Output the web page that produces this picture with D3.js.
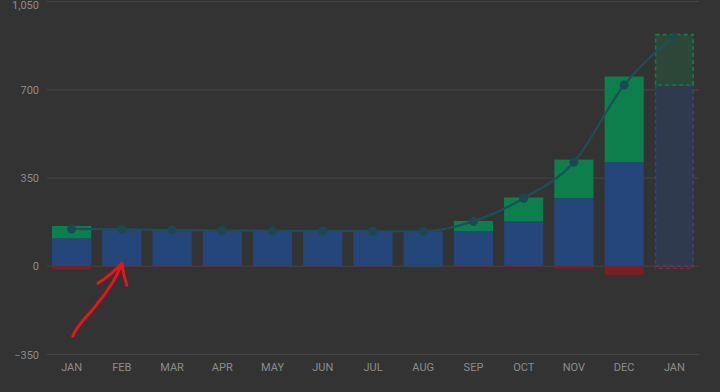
<!DOCTYPE html>
<html><head><meta charset="utf-8">
<script src="https://cdn.jsdelivr.net/npm/d3@7"></script>
<style>
html,body{margin:0;padding:0;background:#333333;}
svg{display:block;font-family:Roboto,"Noto Sans",sans-serif;}
</style></head>
<body><svg id="c" width="720" height="392"></svg>
<script>
const months   = ["JAN","FEB","MAR","APR","MAY","JUN","JUL","AUG","SEP","OCT","NOV","DEC","JAN"];
const opening  = [111, 148, 146, 144, 142, 141, 140, 139, 139, 178, 270, 413, 719];
const income   = [49,   0,   0,   0,   0,   0,   0,   0,  41,  95, 153, 340, 200];
const expenses = [12,   2,   2,   2,   1,   1,   1,   0,   2,   3,   9,  34,   8];
const closing  = [148, 146, 144, 142, 141, 140, 139, 139, 178, 270, 413, 719, 912];
const forecast = [false,false,false,false,false,false,false,false,false,false,false,false,true];
const yTicks   = [-350, 0, 350, 700, 1050];

const svg = d3.select("#c");
const idx = months.map((m,i)=>i);
const x = d3.scaleBand().domain(idx).range([47,699]).paddingInner(0.22).paddingOuter(0.1);
const y = d3.scaleLinear().domain([-350,1050]).range([354.5,1.6]);
const fmt = d3.format(",");

// grid
svg.append("g").selectAll("line").data(yTicks).join("line")
  .attr("x1",47).attr("x2",699)
  .attr("y1",d=>y(d)).attr("y2",d=>y(d))
  .attr("stroke","#464646").attr("stroke-width",1);

// y axis labels
const ya = svg.append("g").attr("transform","translate(39,0)")
  .call(d3.axisLeft(y).tickValues(yTicks).tickFormat(fmt).tickSize(0).tickPadding(0));
ya.select(".domain").remove();
ya.selectAll("text").attr("fill","#8c8c8c").attr("font-size",11)
  .attr("font-family","Roboto,'Noto Sans',sans-serif")
  .attr("dy",(d)=> y(d)<5 ? "0.62em" : "0.32em");

// x axis labels
const xa = svg.append("g").attr("transform","translate(0,360)")
  .call(d3.axisBottom(x).tickFormat(i=>months[i]).tickSize(0).tickPadding(3));
xa.select(".domain").remove();
xa.selectAll("text").attr("fill","#8c8c8c").attr("font-size",11)
  .attr("font-family","Roboto,'Noto Sans',sans-serif");

const C = {blue:"#24467b", green:"#0c7f4c", red:"#7d1f22",
           fBlue:"#2f3a4f", fGreen:"#2c4637", fBlueS:"#2a4a82", fGreenS:"#0f7c4b", fRedS:"#7a2a45"};

const bars = svg.append("g");
idx.forEach(i=>{
  const bx = x(i), bw = x.bandwidth();
  const f = forecast[i];
  const rect = (v0,v1,fill,stroke)=>{
    const r = bars.append("rect").attr("x",bx).attr("width",bw)
      .attr("y",y(Math.max(v0,v1))).attr("height",Math.abs(y(v0)-y(v1)))
      .attr("fill",fill);
    if(stroke){ r.attr("stroke",stroke).attr("stroke-width",1.6).attr("stroke-dasharray","4,3")
      .attr("x",bx+0.8).attr("width",bw-1.6); }
    return r;
  };
  if(!f){
    rect(0,opening[i],C.blue);
    if(income[i]>0) rect(opening[i],opening[i]+income[i],C.green);
    if(expenses[i]>0) rect(0,-expenses[i],C.red);
  } else {
    rect(0,opening[i],C.fBlue,C.fBlueS);
    rect(opening[i],opening[i]+income[i],C.fGreen,C.fGreenS);
    rect(0,-expenses[i],"none",C.fRedS);
  }
});

// closing balance line
const cx = i=>x(i)+x.bandwidth()/2;
svg.append("path").datum(idx)
  .attr("d",d3.line().x(cx).y(i=>y(closing[i])).curve(d3.curveMonotoneX))
  .attr("fill","none").attr("stroke","#1d4f58").attr("stroke-width",2.2);
svg.append("g").selectAll("circle").data(idx).join("circle")
  .attr("cx",cx).attr("cy",i=>y(closing[i])).attr("r",4.5)
  .attr("fill","#1b4852").attr("opacity",i=>forecast[i]?0.6:1);

// hand-drawn red arrow annotation pointing to FEB bar base
const ax = cx(1), ay = y(0);
const ann = svg.append("g").attr("fill","none").attr("stroke","#e8141a")
  .attr("stroke-width",3).attr("stroke-linecap","round").attr("stroke-linejoin","round");
ann.append("path").attr("d",
  `M${ax-49},${ay+70} C${ax-46},${ay+60} ${ax-34},${ay+50} ${ax-25},${ay+38} C${ax-15},${ay+26} ${ax-6},${ay+14} ${ax},${ay-3}`);
ann.append("path").attr("d",
  `M${ax-24},${ay+17} C${ax-16},${ay+12} ${ax-8},${ay+6} ${ax},${ay-3} C${ax+1},${ay+6} ${ax+3},${ay+13} ${ax+5},${ay+19}`);
</script>
</body></html>
